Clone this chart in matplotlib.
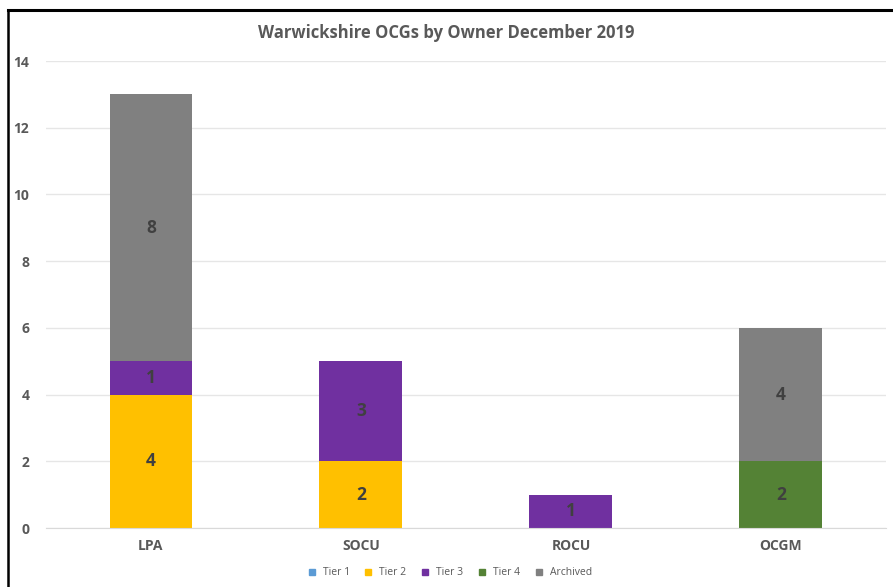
import numpy as np
import matplotlib
matplotlib.use("Agg")
from matplotlib import pyplot as plt
from matplotlib.lines import Line2D

owners = ["LPA", "SOCU", "ROCU", "OCGM"]
tier_names = ["Tier 1", "Tier 2", "Tier 3", "Tier 4", "Archived"]
tier1 = [0, 0, 0, 0]
tier2 = [4, 2, 0, 0]
tier3 = [1, 3, 1, 0]
tier4 = [0, 0, 0, 2]
archived = [8, 0, 0, 4]

colours = ["#5B9BD5", "#FFC000", "#7030A0", "#548235", "#808080"]

plt.rcParams["font.family"] = ["Open Sans", "DejaVu Sans"]

fig = plt.figure(figsize=(8.93, 5.87), dpi=100)
ax = fig.add_axes([0.0515, 0.1005, 0.9405, 0.7955])

x = np.arange(len(owners))
bottom = np.zeros(len(owners))
for name, vals, col in zip(tier_names, [tier1, tier2, tier3, tier4, archived], colours):
    vals = np.array(vals, dtype=float)
    ax.bar(x, vals, width=0.395, bottom=bottom, color=col, label=name, zorder=2)
    for xi, v, b in zip(x, vals, bottom):
        if v > 0:
            ax.text(xi, b + v / 2, f"{int(v)}", ha="center", va="center",
                    fontsize=12.5, fontweight="bold", color="#404040", zorder=3)
    bottom += vals

ax.set_xlim(-0.5, len(owners) - 0.5)
ax.set_ylim(0, 14)
ax.set_yticks(range(0, 15, 2))
ax.yaxis.grid(True, color="#E6E6E6", linewidth=1, zorder=0)
ax.set_axisbelow(True)
for s in ["top", "right", "left"]:
    ax.spines[s].set_visible(False)
ax.spines["bottom"].set_color("#D9D9D9")
ax.tick_params(axis="both", length=0, labelsize=10, labelcolor="#595959")
ax.tick_params(axis="y", pad=12)
ax.tick_params(axis="x", pad=8)
ax.set_xticks(x)
ax.set_xticklabels(owners, fontweight="bold")
for lbl in ax.get_yticklabels():
    lbl.set_fontweight("bold")

fig.text(0.5, 0.943, "Warwickshire OCGs by Owner December 2019", ha="center", va="center",
         fontsize=12, fontweight="bold", color="#595959")

handles = [Line2D([0], [0], marker="s", linestyle="none", markersize=5,
                  markerfacecolor=c, markeredgecolor=c) for c in colours]
fig.legend(handles, tier_names, loc="center", bbox_to_anchor=(0.5, 0.024), ncol=5,
           frameon=False, fontsize=7.5, labelcolor="#595959", handletextpad=0.05,
           columnspacing=0.8)

# outer frame on the top and left edges
fig.add_artist(Line2D([0.009, 1.0], [0.983, 0.983], color="black", linewidth=2.2,
                      transform=fig.transFigure))
fig.add_artist(Line2D([0.009, 0.009], [0.0, 0.983], color="black", linewidth=1.8,
                      transform=fig.transFigure))

fig.savefig("out.png", dpi=100)
